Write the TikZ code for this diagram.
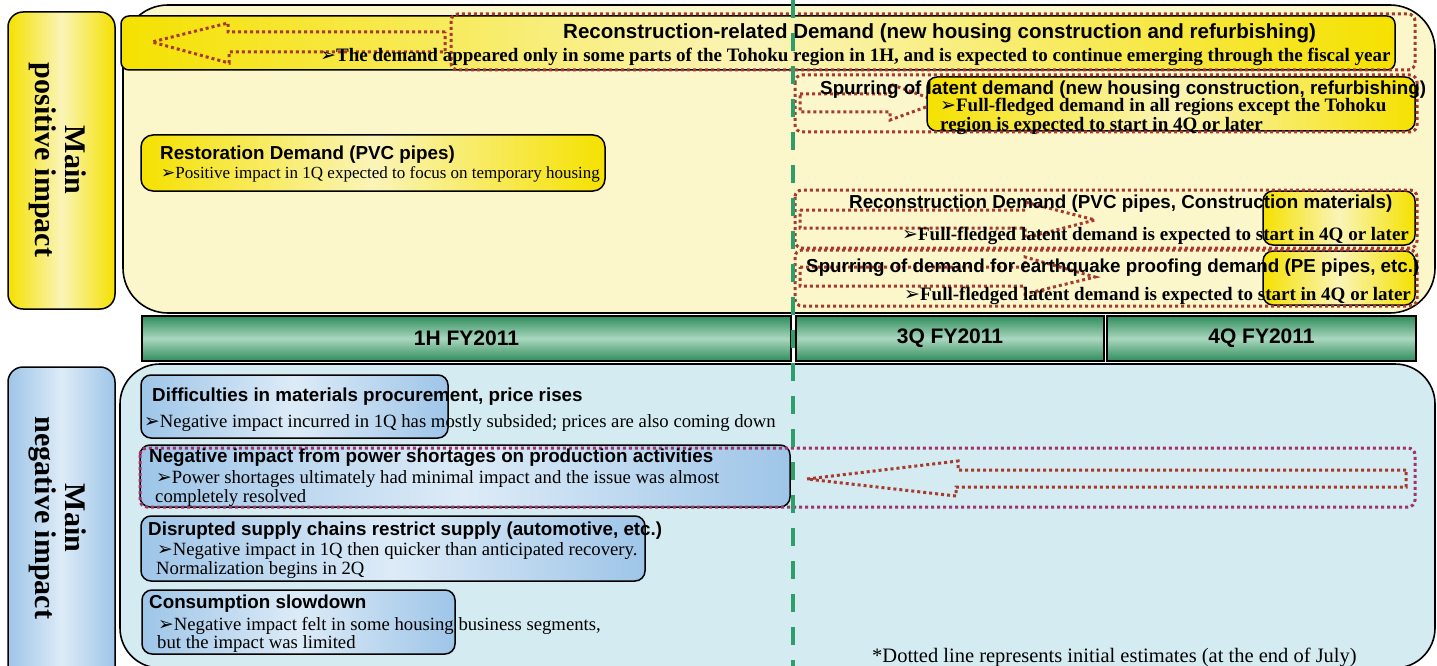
\documentclass[tikz,border=0pt]{standalone}
\usepackage{fontspec}
\setmainfont{Liberation Serif}
\setsansfont{Liberation Sans}
\newfontfamily\dv{DejaVu Sans}
\newcommand\arw{{\dv ➢}}
\definecolor{panelY}{HTML}{FCF7CB}
\definecolor{panelB}{HTML}{D3EBF1}
\definecolor{ylw}{HTML}{F5E100}
\definecolor{ylwL}{HTML}{FAF4B8}
\definecolor{bD}{HTML}{9EC5E8}
\definecolor{bL}{HTML}{DDEBF7}
\definecolor{gD}{HTML}{2F8C5B}
\definecolor{gL}{HTML}{AAD7BF}
\definecolor{gDash}{HTML}{2E9E6B}
\definecolor{dotred}{HTML}{A63A2E}
\definecolor{dotmag}{HTML}{A2336A}
\tikzset{
 panel/.style={draw=black, line width=1.6pt, rounded corners=45pt},
 ybox/.style={draw=black, line width=1.5pt, rounded corners=10pt, left color=ylw, right color=ylw, middle color=ylwL},
 bbox/.style={draw=black, line width=1.5pt, rounded corners=10pt, left color=bD, right color=bD, middle color=bL},
 gbar/.style={draw=black, line width=1.5pt, top color=gD, bottom color=gD, middle color=gL, inner sep=0pt, font=\sffamily\bfseries\fontsize{21}{24}\selectfont},
 dotr/.style={draw=dotred, line width=3pt, dash pattern=on 3pt off 3pt},
 dotm/.style={draw=dotmag, line width=3pt, dash pattern=on 3pt off 3pt, rounded corners=7pt},
 ttl/.style={font=\sffamily\bfseries\fontsize{18.8}{22}\selectfont, inner sep=0pt, anchor=base west},
 bdy/.style={font=\rmfamily\fontsize{18.7}{21}\selectfont, inner sep=0pt, anchor=base west},
 bdyb/.style={font=\rmfamily\bfseries\fontsize{19}{22}\selectfont, inner sep=0pt, anchor=base west},
 lbl/.style={font=\rmfamily\bfseries\fontsize{30}{30}\selectfont, align=center, rotate=-90, inner sep=0pt},
}
\begin{document}
\begin{tikzpicture}[x=1pt,y=-1pt]
\useasboundingbox (0,0) rectangle (1437,666);
% panels
\path[panel, fill=panelY] (123,5) rectangle (1435,313);
\path[panel, fill=panelB, rounded corners=40pt] (120,364) rectangle (1435,668);
% side labels
\path[draw=black, line width=1.5pt, rounded corners=15pt, left color=ylw, right color=ylw, middle color=ylwL] (8,12) rectangle (115,309);
\node[lbl] (lpos) at (58,160) {Main\\positive impact};
\path[draw=black, line width=1.5pt, rounded corners=15pt, left color=bD, right color=bD, middle color=bL] (8,367) rectangle (115,690);
\node[lbl] (lneg) at (58,518) {Main\\negative impact};
% header bar
\path[ybox, rounded corners=8pt] (121,16) rectangle (1395,70);
\path[dotr] (445,32) -- (228,32) -- (228,23) -- (152,42) -- (229,63) -- (229,52) -- (445,52) -- cycle;
% restoration box
\path[ybox, rounded corners=12pt] (141,135) rectangle (605,191);
% dotted arrows right
\path[dotr] (800,94) -- (890,94) -- (890,84) -- (940,102) -- (890,120) -- (890,112) -- (800,112) -- cycle;
\path[dotr] (800,210) -- (1025,210) -- (1025,202) -- (1095,220) -- (1025,238) -- (1025,228) -- (800,228) -- cycle;
\path[dotr] (800,267) -- (1025,267) -- (1025,257) -- (1095,277) -- (1025,294) -- (1025,286) -- (800,286) -- cycle;
% yellow solid boxes right
\path[ybox] (927,77) rectangle (1415,131);
\path[ybox] (1263,191) rectangle (1415,245);
\path[ybox] (1263,251) rectangle (1415,305);
% dotted rects
\path[dotr, rounded corners=7pt] (451,14) rectangle (1415,70);
\path[dotr, rounded corners=7pt] (795,75) rectangle (1417,132);
\path[dotr, rounded corners=7pt] (795,190) rectangle (1417,248);
\path[dotr, rounded corners=7pt] (795,250) rectangle (1417,306);
% positive texts
\node[ttl, font=\sffamily\bfseries\fontsize{20.5}{24}\selectfont] (t1) at (563,39) {Reconstruction-related Demand (new housing construction and refurbishing)};
\node[bdyb] (t1b) at (320,62) {\arw The demand appeared only in some parts of the Tohoku region in 1H, and is expected to continue emerging through the fiscal year};
\node[ttl] (t2) at (820,95) {Spurring of latent demand (new housing construction, refurbishing)};
\node[bdyb] (t2b) at (940,112) {\arw Full-fledged demand in all regions except the Tohoku};
\node[bdyb] (t2c) at (940,131) {region is expected to start in 4Q or later};
\node[ttl] (t3) at (160,159) {Restoration Demand (PVC pipes)};
\node[bdy, font=\rmfamily\fontsize{17}{20}\selectfont] (t3b) at (161,178) {\arw Positive impact in 1Q expected to focus on temporary housing};
\node[ttl] (t4) at (849,208) {Reconstruction Demand (PVC pipes, Construction materials)};
\node[bdyb] (t4b) at (902,240) {\arw Full-fledged latent demand is expected to start in 4Q or later};
\node[ttl] (t5) at (806,272) {Spurring of demand for earthquake proofing demand (PE pipes, etc.)};
\node[bdyb] (t5b) at (904,300) {\arw Full-fledged latent demand is expected to start in 4Q or later};
% timeline bars
\node[gbar, minimum width=649pt, minimum height=45pt] (h1) at (466.5,338.5) {1H FY2011};
\node[gbar, minimum width=308pt, minimum height=45pt] (q3) at (950,338.5) {3Q FY2011};
\node[gbar, minimum width=309pt, minimum height=45pt] (q4) at (1261.5,338.5) {4Q FY2011};
% negative boxes
\path[bbox] (141,375) rectangle (448,438);
\path[bbox] (140,445) rectangle (790,507);
\path[bbox] (141,516) rectangle (645,581);
\path[bbox] (142,590) rectangle (455,654);
\path[dotm] (140,448) rectangle (1415,507);
\path[dotr] (1406,470) -- (958,470) -- (958,461) -- (807,479) -- (956,496) -- (956,487) -- (1406,487) -- cycle;
\node[ttl] (t6) at (152,401) {Difficulties in materials procurement, price rises};
\node[bdy] (t6b) at (144,427) {\arw Negative impact incurred in 1Q has mostly subsided; prices are also coming down};
\node[ttl] (t7) at (149,462) {Negative impact from power shortages on production activities};
\node[bdy] (t7b) at (156,483) {\arw Power shortages ultimately had minimal impact and the issue was almost};
\node[bdy] (t7c) at (155,502) {completely resolved};
\node[ttl] (t8) at (148,535) {Disrupted supply chains restrict supply (automotive, etc.)};
\node[bdy] (t8b) at (157,555) {\arw Negative impact in 1Q then quicker than anticipated recovery.};
\node[bdy] (t8c) at (156,574) {Normalization begins in 2Q};
\node[ttl] (t9) at (149,608) {Consumption slowdown};
\node[bdy] (t9b) at (158,630) {\arw Negative impact felt in some housing business segments,};
\node[bdy] (t9c) at (157,648) {but the impact was limited};
\node[bdy, font=\rmfamily\fontsize{20.5}{23}\selectfont] (fn) at (872,662) {*Dotted line represents initial estimates (at the end of July)};
% green dashed divider
\coordinate (dtop) at (793,0);
\coordinate (dbot) at (793,666);
\draw[gDash, line width=4pt, dash pattern=on 18pt off 15pt] (dtop) -- (dbot);
\end{tikzpicture}
\end{document}
